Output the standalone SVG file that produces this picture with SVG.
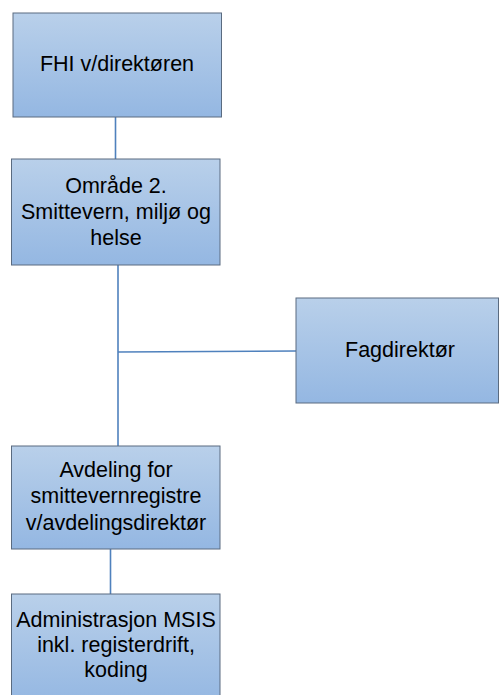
<svg xmlns="http://www.w3.org/2000/svg" width="499" height="695" viewBox="0 0 499 695">
<defs>
<linearGradient id="g" x1="0" y1="0" x2="0" y2="1">
<stop offset="0" stop-color="#b9d0ea"/>
<stop offset="1" stop-color="#94b7e2"/>
</linearGradient>
<style>
.box{fill:url(#g);stroke:#5a6b80;stroke-width:1}
.t{font-family:"Liberation Sans","Open Sans",sans-serif;font-size:21.5px;fill:#000;text-anchor:middle}
.c{stroke:#4f81bd;stroke-width:1.6;fill:none}
</style>
</defs>
<g id="connectors">
<line class="c" x1="115.5" y1="117" x2="115.5" y2="159"/>
<line class="c" x1="118" y1="265" x2="118" y2="446"/>
<line class="c" x1="118" y1="352" x2="296" y2="351"/>
<line class="c" x1="110.5" y1="549" x2="110.5" y2="594"/>
</g>
<g id="n1">
<rect class="box" x="13" y="13" width="208.5" height="104"/>
<text class="t" x="117" y="71">FHI v/direktøren</text>
</g>
<g id="n2">
<rect class="box" x="11.5" y="159" width="208.5" height="106"/>
<text class="t" x="116" y="193">Område 2.</text>
<text class="t" x="116" y="219">Smittevern, miljø og</text>
<text class="t" x="116" y="245">helse</text>
</g>
<g id="n3">
<rect class="box" x="296" y="298" width="202.5" height="105"/>
<text class="t" x="400" y="357">Fagdirektør</text>
</g>
<g id="n4">
<rect class="box" x="11.5" y="446" width="208.5" height="103"/>
<text class="t" x="116" y="477">Avdeling for</text>
<text class="t" x="116" y="503">smittevernregistre</text>
<text class="t" x="116" y="530">v/avdelingsdirektør</text>
</g>
<g id="n5">
<rect class="box" x="11.5" y="594" width="208.5" height="110"/>
<text class="t" x="116" y="627">Administrasjon MSIS</text>
<text class="t" x="116" y="652">inkl. registerdrift,</text>
<text class="t" x="116" y="677">koding</text>
</g>
</svg>
